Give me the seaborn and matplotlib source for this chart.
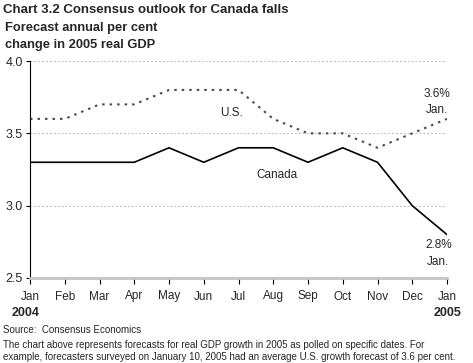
import matplotlib
matplotlib.use("Agg")
import matplotlib.pyplot as plt
import seaborn as sns
import pandas as pd

months = ["Jan", "Feb", "Mar", "Apr", "May", "Jun", "Jul", "Aug", "Sep", "Oct", "Nov", "Dec", "Jan"]
us_values = [3.6, 3.6, 3.7, 3.7, 3.8, 3.8, 3.8, 3.6, 3.5, 3.5, 3.4, 3.5, 3.6]
canada_values = [3.3, 3.3, 3.3, 3.3, 3.4, 3.3, 3.4, 3.4, 3.3, 3.4, 3.3, 3.0, 2.8]
y_ticks = [2.5, 3.0, 3.5, 4.0]

sns.set_theme(style="white")
plt.rcParams['font.family'] = ['Liberation Sans', 'DejaVu Sans']

df = pd.DataFrame({
    "idx": list(range(len(months))) * 2,
    "value": us_values + canada_values,
    "series": ["U.S."] * len(months) + ["Canada"] * len(months),
})

fig = plt.figure(figsize=(4.73, 3.63), dpi=100)
ax = fig.add_axes([30/473, 1 - 278/363, 417/473, 217/363])

sns.lineplot(data=df[df.series == "U.S."], x="idx", y="value", ax=ax,
             color="#4d4d4d", linestyle=(0, (1.2, 2.4)), linewidth=1.5, legend=False)
sns.lineplot(data=df[df.series == "Canada"], x="idx", y="value", ax=ax,
             color="black", linewidth=1.2, legend=False)

ax.set_xlim(0, 12)
ax.set_ylim(2.5, 4.0)
ax.set_yticks(y_ticks)
ax.set_yticklabels([f"{v:.1f}" for v in y_ticks], fontsize=9)
ax.set_xticks(range(len(months)))
ax.set_xticklabels(months, fontsize=8.5)
ax.set_xlabel("")
ax.set_ylabel("")
for v in y_ticks[1:]:
    ax.axhline(v, color="#bbbbbb", linestyle=(0, (2, 2)), linewidth=0.7, zorder=0)

ax.spines["top"].set_visible(False)
ax.spines["right"].set_visible(False)
ax.spines["left"].set_color("black")
ax.spines["left"].set_linewidth(0.8)
ax.spines["bottom"].set_color("#c4c4c4")
ax.spines["bottom"].set_linewidth(2)
ax.tick_params(axis="y", left=True, length=3, width=0.8, color="black", pad=2)
ax.tick_params(axis="x", bottom=True, length=4, width=0.8, color="black", pad=5)

fs = 8.5
ax.text(5.8, 3.64, "U.S.", fontsize=fs, ha="center", va="center")
ax.text(7.1, 3.21, "Canada", fontsize=fs, ha="center", va="center")
ax.text(11.7, 3.77, "3.6%", fontsize=fs, ha="center", va="center")
ax.text(11.7, 3.66, "Jan.", fontsize=fs, ha="center", va="center")
ax.text(11.75, 2.73, "2.8%", fontsize=fs, ha="center", va="center")
ax.text(11.75, 2.61, "Jan.", fontsize=fs, ha="center", va="center")

fig.text(3/473, 1 - 10/363, "Chart 3.2 Consensus outlook for Canada falls",
         fontsize=9.5, fontweight="bold", va="center", ha="left")
fig.text(5/473, 1 - 28/363, "Forecast annual per cent", fontsize=9.3,
         fontweight="bold", va="center", ha="left")
fig.text(5/473, 1 - 45/363, "change in 2005 real GDP", fontsize=9.3,
         fontweight="bold", va="center", ha="left")
fig.text(12/473, 1 - 313/363, "2004", fontsize=9, fontweight="bold", va="center", ha="left")
fig.text(461/473, 1 - 313/363, "2005", fontsize=9, fontweight="bold", va="center", ha="right")
fig.text(3/473, 1 - 330/363, "Source:  Consensus Economics", fontsize=7, va="center", ha="left")
fig.text(3/473, 1 - 345/363,
         "The chart above represents forecasts for real GDP growth in 2005 as polled on specific dates. For",
         fontsize=7, va="center", ha="left")
fig.text(3/473, 1 - 357/363,
         "example, forecasters surveyed on January 10, 2005 had an average U.S. growth forecast of 3.6 per cent.",
         fontsize=7, va="center", ha="left")

fig.savefig("out.png", dpi=100)
